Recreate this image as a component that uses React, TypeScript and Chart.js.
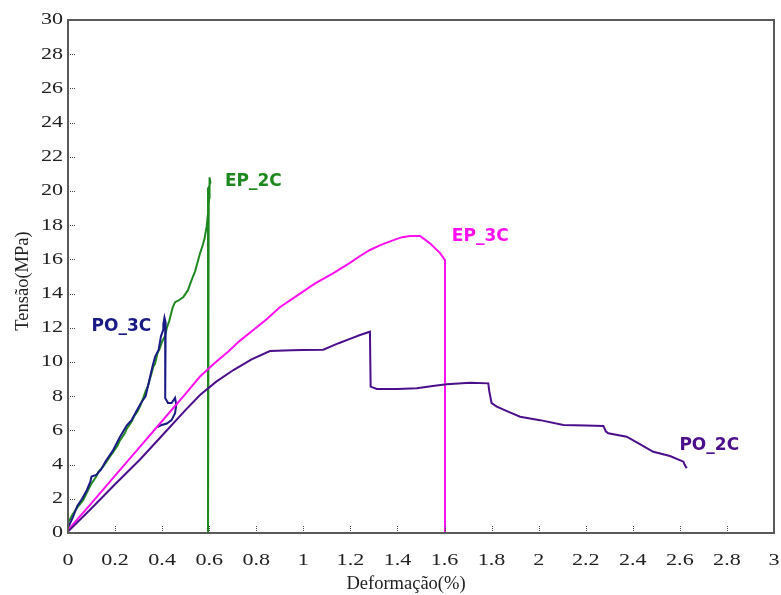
import React, { useEffect, useRef } from "react";
import { Chart, registerables } from "chart.js";

Chart.register(...registerables);

// Axis ticks
const xTickValues = [0, 0.2, 0.4, 0.6, 0.8, 1, 1.2, 1.4, 1.6, 1.8, 2, 2.2, 2.4, 2.6, 2.8, 3];
const xTickLabels = ["0", "0.2", "0.4", "0.6", "0.8", "1", "1.2", "1.4", "1.6", "1.8", "2", "2.2", "2.4", "2.6", "2.8", "3"];
const yTickValues = [0, 2, 4, 6, 8, 10, 12, 14, 16, 18, 20, 22, 24, 26, 28, 30];
const yTickLabels = ["0", "2", "4", "6", "8", "10", "12", "14", "16", "18", "20", "22", "24", "26", "28", "30"];

// EP_2C (green)
const ep2cX = [0, 0.02, 0.04, 0.065, 0.085, 0.1, 0.12, 0.13, 0.15, 0.16, 0.18, 0.19, 0.21, 0.22, 0.24, 0.25, 0.27, 0.28, 0.295, 0.306, 0.32, 0.33, 0.34, 0.35, 0.362, 0.37, 0.38, 0.39, 0.4, 0.412, 0.42, 0.43, 0.445, 0.455, 0.47, 0.49, 0.5, 0.51, 0.52, 0.531, 0.54, 0.55, 0.56, 0.574, 0.58, 0.589, 0.592, 0.595, 0.598, 0.6, 0.603, 0.6, 0.605, 0.598, 0.595, 0.595];
const ep2cY = [0.6, 1.1, 1.5, 1.93, 2.5, 2.9, 3.3, 3.6, 3.9, 4.1, 4.5, 4.7, 5.1, 5.4, 5.8, 6.1, 6.5, 6.8, 7.1, 7.4, 7.9, 8.3, 8.6, 9.1, 9.7, 9.9, 10.5, 10.8, 11.2, 11.5, 12.0, 12.4, 13.2, 13.5, 13.6, 13.8, 14.0, 14.2, 14.6, 15.0, 15.3, 15.8, 16.3, 16.9, 17.2, 17.9, 18.3, 18.7, 19.2, 19.6, 20.4, 20.8, 20.5, 20.2, 20.0, 0];

// PO_3C (navy)
const po3cX = [0, 0.02, 0.04, 0.05, 0.06, 0.08, 0.095, 0.1, 0.12, 0.14, 0.16, 0.19, 0.22, 0.25, 0.27, 0.29, 0.31, 0.33, 0.345, 0.36, 0.37, 0.385, 0.395, 0.405, 0.405, 0.41, 0.415, 0.413, 0.413, 0.425, 0.44, 0.455, 0.46, 0.455, 0.44, 0.42, 0.395, 0.38];
const po3cY = [0.3, 0.9, 1.6, 1.8, 2.0, 2.5, 3.0, 3.3, 3.4, 3.7, 4.2, 4.8, 5.6, 6.3, 6.6, 7.1, 7.6, 8.0, 8.9, 9.8, 10.3, 10.7, 11.5, 11.9, 12.2, 12.6, 12.3, 11.8, 7.9, 7.6, 7.6, 7.9, 7.5, 7.0, 6.6, 6.4, 6.3, 6.2];

// EP_3C (magenta)
const ep3cX = [0, 0.1, 0.2, 0.3, 0.4, 0.5, 0.561, 0.62, 0.68, 0.731, 0.79, 0.844, 0.9, 0.986, 1.05, 1.128, 1.198, 1.241, 1.283, 1.33, 1.383, 1.42, 1.453, 1.496, 1.538, 1.581, 1.602, 1.602];
const ep3cY = [0.17, 1.75, 3.35, 4.95, 6.55, 8.15, 9.15, 9.9, 10.6, 11.25, 11.9, 12.5, 13.2, 14.0, 14.6, 15.2, 15.8, 16.2, 16.55, 16.85, 17.13, 17.3, 17.37, 17.37, 16.94, 16.37, 15.96, 0];

// PO_2C (indigo)
const po2cX = [0, 0.1, 0.2, 0.306, 0.4, 0.5, 0.561, 0.63, 0.703, 0.78, 0.858, 0.95, 1.0, 1.085, 1.15, 1.198, 1.241, 1.283, 1.286, 1.312, 1.4, 1.482, 1.55, 1.609, 1.708, 1.786, 1.79, 1.8, 1.822, 1.87, 1.921, 2.006, 2.105, 2.2, 2.275, 2.285, 2.296, 2.374, 2.43, 2.487, 2.558, 2.615, 2.62, 2.629];
const po2cY = [0.08, 1.45, 2.85, 4.3, 5.7, 7.2, 8.07, 8.85, 9.53, 10.15, 10.64, 10.68, 10.7, 10.72, 11.1, 11.35, 11.58, 11.77, 8.56, 8.42, 8.42, 8.46, 8.6, 8.7, 8.79, 8.75, 8.3, 7.6, 7.39, 7.1, 6.8, 6.6, 6.32, 6.28, 6.26, 5.95, 5.83, 5.63, 5.2, 4.75, 4.5, 4.17, 4.0, 3.78];

// Series labels
const seriesNames = ["PO_2C", "EP_3C", "PO_3C", "EP_2C"];
const seriesColors = ["#4b0f8c", "#ff10f0", "#1a1a86", "#1e881e"];
const labelX = [2.598, 1.631, 0.1, 0.667];
const labelY = [4.85, 17.09, 11.83, 20.29];

const xTitle = "Deformação(%)";
const yTitle = "Tensão(MPa)";

function toPoints(xs: number[], ys: number[]) {
  return xs.map((x, i) => ({ x, y: ys[i] }));
}

const STRETCH = 1.3;

export default function App() {
  const ref = useRef<HTMLCanvasElement | null>(null);

  useEffect(() => {
    if (!ref.current) return;
    const xsAll = [po2cX, ep3cX, po3cX, ep2cX];
    const ysAll = [po2cY, ep3cY, po3cY, ep2cY];

    const decor = {
      id: "decor",
      afterDatasetsDraw(chart: any) {
        const { ctx, chartArea: a, scales } = chart;
        ctx.save();
        // inward dotted tick marks
        ctx.strokeStyle = "#444";
        ctx.lineWidth = 1;
        ctx.setLineDash([1, 1]);
        for (const v of yTickValues) {
          if (v <= 0 || v >= 30) continue;
          const py = Math.round(scales.y.getPixelForValue(v)) + 0.5;
          ctx.beginPath();
          ctx.moveTo(a.left, py);
          ctx.lineTo(a.left + 7, py);
          ctx.stroke();
        }
        for (const v of xTickValues) {
          if (v <= 0 || v >= 3) continue;
          const px = Math.round(scales.x.getPixelForValue(v)) + 0.5;
          ctx.beginPath();
          ctx.moveTo(px, a.bottom);
          ctx.lineTo(px, a.bottom - 8);
          ctx.stroke();
        }
        ctx.setLineDash([]);
        // box
        ctx.strokeStyle = "#5a5a5a";
        ctx.lineWidth = 2;
        ctx.strokeRect(a.left, a.top, a.right - a.left, a.bottom - a.top);

        // tick labels (slightly wide serif, as in the original picture)
        ctx.fillStyle = "#222";
        ctx.font = "17px 'Liberation Serif'";
        ctx.textBaseline = "middle";
        ctx.textAlign = "right";
        for (let i = 0; i < yTickValues.length; i++) {
          const py = scales.y.getPixelForValue(yTickValues[i]);
          ctx.save();
          ctx.translate(a.left - 5, py);
          ctx.scale(STRETCH, 1);
          ctx.fillText(yTickLabels[i], 0, 0);
          ctx.restore();
        }
        ctx.textAlign = "center";
        ctx.textBaseline = "alphabetic";
        for (let i = 0; i < xTickValues.length; i++) {
          const px = scales.x.getPixelForValue(xTickValues[i]);
          ctx.save();
          ctx.translate(px, 565);
          ctx.scale(STRETCH, 1);
          ctx.fillText(xTickLabels[i], 0, 0);
          ctx.restore();
        }

        // series labels
        ctx.font = "bold 17px 'DejaVu Sans'";
        ctx.textAlign = "left";
        ctx.textBaseline = "alphabetic";
        for (let i = 0; i < seriesNames.length; i++) {
          ctx.fillStyle = seriesColors[i];
          ctx.fillText(
            seriesNames[i],
            scales.x.getPixelForValue(labelX[i]),
            scales.y.getPixelForValue(labelY[i])
          );
        }
        // axis titles
        ctx.fillStyle = "#222";
        ctx.font = "18.5px 'Liberation Serif'";
        ctx.textAlign = "center";
        ctx.textBaseline = "alphabetic";
        ctx.fillText(xTitle, 406, 589);
        ctx.translate(28, 281);
        ctx.rotate(-Math.PI / 2);
        ctx.font = "18.5px 'Liberation Serif'";
        ctx.fillText(yTitle, 0, 0);
        ctx.restore();
      },
    };

    const chart = new Chart(ref.current, {
      type: "scatter",
      data: {
        datasets: seriesNames.map((name, i) => ({
          label: name,
          data: toPoints(xsAll[i], ysAll[i]),
          showLine: true,
          borderColor: seriesColors[i],
          backgroundColor: seriesColors[i],
          borderWidth: 2,
          pointRadius: 0,
          tension: 0,
        })),
      },
      options: {
        responsive: false,
        animation: false,
        devicePixelRatio: 1,
        layout: { padding: { left: 8, right: 7, top: 20, bottom: 0 } },
        plugins: { legend: { display: false }, tooltip: { enabled: false } },
        scales: {
          x: {
            type: "linear",
            min: 0,
            max: 3,
            afterBuildTicks: (s: any) => {
              s.ticks = xTickValues.map((v) => ({ value: v }));
            },
            afterFit: (s: any) => {
              s.height = 62;
              s.paddingLeft = 0;
              s.paddingRight = 0;
            },
            grid: { display: false, drawTicks: false },
            border: { display: false },
            ticks: { display: false },
          },
          y: {
            type: "linear",
            min: 0,
            max: 30,
            afterBuildTicks: (s: any) => {
              s.ticks = yTickValues.map((v) => ({ value: v }));
            },
            afterFit: (s: any) => {
              s.width = 60;
              s.paddingTop = 0;
              s.paddingBottom = 0;
            },
            grid: { display: false, drawTicks: false },
            border: { display: false },
            ticks: { display: false },
          },
        },
      },
      plugins: [decor],
    });
    return () => chart.destroy();
  }, []);

  return (
    <div style={{ position: "fixed", left: 0, top: 0, width: 781, height: 595, background: "#fff" }}>
      <canvas ref={ref} width={781} height={595} style={{ width: 781, height: 595 }} />
    </div>
  );
}
